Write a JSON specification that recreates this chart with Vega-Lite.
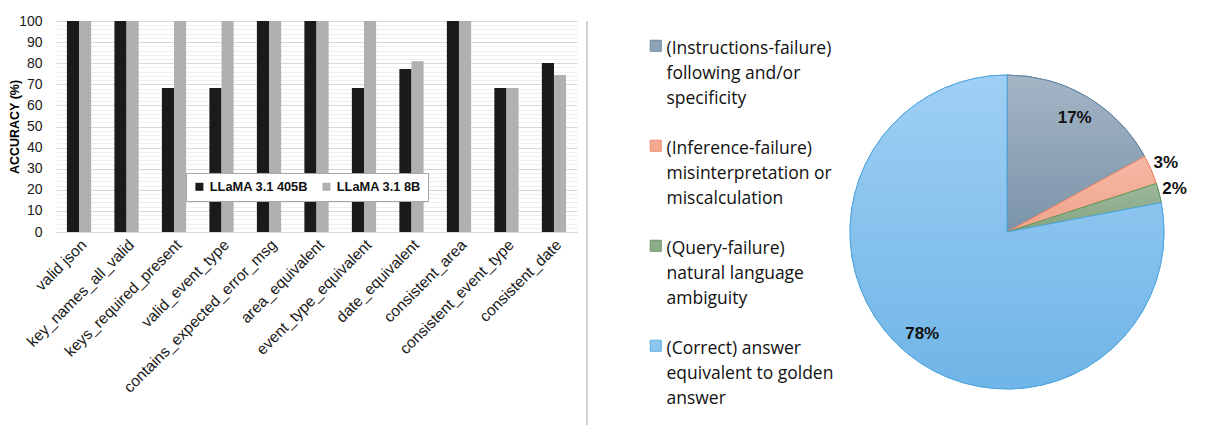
{
  "$schema": "https://vega.github.io/schema/vega-lite/v6.json",
  "background": "white",
  "padding": {"left": 8, "top": 14, "right": 0, "bottom": 0},
  "spacing": 9,
  "config": {"view": {"stroke": null}, "font": "Liberation Sans"},
  "resolve": {
    "scale": {"x": "independent", "y": "independent", "color": "independent", "fill": "independent", "stroke": "independent", "theta": "independent"},
    "legend": {"color": "independent", "fill": "independent", "stroke": "independent"}
  },
  "hconcat": [
    {
      "width": 521,
      "height": 211,
      "data": {
        "values": [
          {"metric": "valid json", "model": "LLaMA 3.1 405B", "accuracy": 100},
          {"metric": "valid json", "model": "LLaMA 3.1 8B", "accuracy": 100},
          {"metric": "key_names_all_valid", "model": "LLaMA 3.1 405B", "accuracy": 100},
          {"metric": "key_names_all_valid", "model": "LLaMA 3.1 8B", "accuracy": 100},
          {"metric": "keys_required_present", "model": "LLaMA 3.1 405B", "accuracy": 68.2},
          {"metric": "keys_required_present", "model": "LLaMA 3.1 8B", "accuracy": 100},
          {"metric": "valid_event_type", "model": "LLaMA 3.1 405B", "accuracy": 68.2},
          {"metric": "valid_event_type", "model": "LLaMA 3.1 8B", "accuracy": 100},
          {"metric": "contains_expected_error_msg", "model": "LLaMA 3.1 405B", "accuracy": 100},
          {"metric": "contains_expected_error_msg", "model": "LLaMA 3.1 8B", "accuracy": 100},
          {"metric": "area_equivalent", "model": "LLaMA 3.1 405B", "accuracy": 100},
          {"metric": "area_equivalent", "model": "LLaMA 3.1 8B", "accuracy": 100},
          {"metric": "event_type_equivalent", "model": "LLaMA 3.1 405B", "accuracy": 68.2},
          {"metric": "event_type_equivalent", "model": "LLaMA 3.1 8B", "accuracy": 100},
          {"metric": "date_equivalent", "model": "LLaMA 3.1 405B", "accuracy": 77.3},
          {"metric": "date_equivalent", "model": "LLaMA 3.1 8B", "accuracy": 80.9},
          {"metric": "consistent_area", "model": "LLaMA 3.1 405B", "accuracy": 100},
          {"metric": "consistent_area", "model": "LLaMA 3.1 8B", "accuracy": 100},
          {"metric": "consistent_event_type", "model": "LLaMA 3.1 405B", "accuracy": 68.2},
          {"metric": "consistent_event_type", "model": "LLaMA 3.1 8B", "accuracy": 68.2},
          {"metric": "consistent_date", "model": "LLaMA 3.1 405B", "accuracy": 80.1},
          {"metric": "consistent_date", "model": "LLaMA 3.1 8B", "accuracy": 74.4}
        ]
      },
      "layer": [
        {
          "mark": {"type": "point", "opacity": 0},
          "encoding": {
            "x": {"field": "metric", "type": "nominal", "sort": null, "title": null,
              "scale": {"paddingInner": 0.49, "paddingOuter": 0.23},
              "axis": {"labelAngle": -45, "labelFontSize": 15.5, "labelColor": "#1a1a1a", "ticks": false, "domain": false, "labelPadding": 5, "labelLimit": 0}},
            "y": {"field": "accuracy", "type": "quantitative", "scale": {"domain": [0, 100], "nice": false},
              "axis": {"orient": "right", "values": [2,4,6,8,12,14,16,18,22,24,26,28,32,34,36,38,42,44,46,48,52,54,56,58,62,64,66,68,72,74,76,78,82,84,86,88,92,94,96,98],
                "labels": false, "ticks": false, "domain": false, "title": null, "grid": true, "gridColor": "#efefef", "gridWidth": 1}}
          }
        },
        {
          "mark": {"type": "bar"},
          "encoding": {
            "x": {"field": "metric", "type": "nominal", "sort": null, "title": null,
              "scale": {"paddingInner": 0.49, "paddingOuter": 0.23},
              "axis": {"labelAngle": -45, "labelFontSize": 15.5, "labelColor": "#1a1a1a", "ticks": false, "domain": false, "labelPadding": 5, "labelLimit": 0}},
            "xOffset": {"field": "model", "type": "nominal", "sort": null, "scale": {"paddingInner": 0, "paddingOuter": 0}},
            "y": {"field": "accuracy", "type": "quantitative", "scale": {"domain": [0, 100], "nice": false},
              "axis": {"orient": "left", "values": [0,10,20,30,40,50,60,70,80,90,100], "grid": true, "gridColor": "#d9d9d9", "ticks": false, "domain": false,
                "labelFontSize": 14, "labelColor": "#1a1a1a", "labelPadding": 14,
                "title": "ACCURACY (%)", "titleFontSize": 12.5, "titleFontWeight": "bold", "titleColor": "#000", "titlePadding": -3}},
            "color": {"field": "model", "type": "nominal", "sort": null,
              "scale": {"domain": ["LLaMA 3.1 405B", "LLaMA 3.1 8B"], "range": ["#1a1a1a", "#b0b0b0"]},
              "legend": {"orient": "none", "legendX": 130, "legendY": 152, "direction": "horizontal", "title": null,
                "fillColor": "white", "strokeColor": "#a6a6a6", "padding": 7,
                "labelFont": "Liberation Sans Narrow, Liberation Sans", "labelFontWeight": "bold", "labelFontSize": 12.8, "labelColor": "#111",
                "symbolType": "square", "symbolSize": 64, "symbolStrokeWidth": 0, "columnPadding": 12, "labelOffset": 4}}
          }
        }
      ],
      "resolve": {"axis": {"y": "independent"}}
    },
    {
      "width": 51,
      "height": 422,
      "data": {"values": [{}]},
      "mark": {"type": "rule", "color": "#c0c0c0", "strokeWidth": 1.5},
      "encoding": {"x": {"datum": 0, "type": "quantitative", "scale": {"domain": [0, 1]}, "axis": null}}
    },
    {
      "width": 316,
      "height": 422,
      "data": {
        "values": [
          {"cause": "(Instructions-failure) following and/or specificity", "share": 0.17, "k": 1},
          {"cause": "(Inference-failure) misinterpretation or miscalculation", "share": 0.03, "k": 2},
          {"cause": "(Query-failure) natural language ambiguity", "share": 0.02, "k": 3},
          {"cause": "(Correct) answer equivalent to golden answer", "share": 0.78, "k": 4}
        ]
      },
      "layer": [
        {
          "mark": {"type": "arc", "outerRadius": 157, "strokeWidth": 1},
          "encoding": {
            "theta": {"field": "share", "type": "quantitative", "stack": true},
            "order": {"field": "k", "type": "quantitative"},
            "fill": {"field": "cause", "type": "nominal",
              "scale": {"domain": ["(Instructions-failure) following and/or specificity", "(Inference-failure) misinterpretation or miscalculation", "(Query-failure) natural language ambiguity", "(Correct) answer equivalent to golden answer"],
                "range": ["#8fa3b6", "#f3a98f", "#8cab88", "#8ec6ee"]},
              "legend": {"orient": "none", "legendX": -202, "legendY": 16, "title": null,
                "labelFont": "Open Sans", "labelFontSize": 17.5, "labelColor": "#111", "labelLimit": 0,
                "labelBaseline": "top", "labelOffset": 2, "rowPadding": 29,
                "symbolType": "square", "symbolSize": 121, "symbolStrokeWidth": 1,
                "encode": {"labels": {"update": {"lineHeight": {"value": 25}, "dy": {"value": -6}}}},
                "labelExpr": "datum.value == '(Instructions-failure) following and/or specificity' ? ['(Instructions-failure)', 'following and/or', 'specificity'] : datum.value == '(Inference-failure) misinterpretation or miscalculation' ? ['(Inference-failure)', 'misinterpretation or', 'miscalculation'] : datum.value == '(Query-failure) natural language ambiguity' ? ['(Query-failure)', 'natural language', 'ambiguity'] : ['(Correct) answer', 'equivalent to golden', 'answer']"}},
            "stroke": {"field": "cause", "type": "nominal",
              "scale": {"domain": ["(Instructions-failure) following and/or specificity", "(Inference-failure) misinterpretation or miscalculation", "(Query-failure) natural language ambiguity", "(Correct) answer equivalent to golden answer"],
                "range": ["#6c88a2", "#ec8c6c", "#6a9566", "#5aaee3"]},
              "legend": {"orient": "none", "legendX": -202, "legendY": 16, "title": null,
                "labelFont": "Open Sans", "labelFontSize": 17.5, "labelColor": "#111", "labelLimit": 0,
                "labelBaseline": "top", "labelOffset": 2, "rowPadding": 29,
                "symbolType": "square", "symbolSize": 121, "symbolStrokeWidth": 1,
                "encode": {"labels": {"update": {"lineHeight": {"value": 25}, "dy": {"value": -6}}}},
                "labelExpr": "datum.value == '(Instructions-failure) following and/or specificity' ? ['(Instructions-failure)', 'following and/or', 'specificity'] : datum.value == '(Inference-failure) misinterpretation or miscalculation' ? ['(Inference-failure)', 'misinterpretation or', 'miscalculation'] : datum.value == '(Query-failure) natural language ambiguity' ? ['(Query-failure)', 'natural language', 'ambiguity'] : ['(Correct) answer', 'equivalent to golden', 'answer']"}}
          }
        },
        {
          "mark": {"type": "arc", "outerRadius": 157, "strokeWidth": 1, "stroke": "#5a84a6",
            "fill": {"gradient": "linear", "x1": 0, "y1": 0, "x2": 0, "y2": 1, "stops": [{"offset": 0, "color": "#a4b5c5"}, {"offset": 1, "color": "#7b94aa"}]}},
          "encoding": {
            "theta": {"field": "share", "type": "quantitative", "stack": true},
            "order": {"field": "k", "type": "quantitative"},
            "opacity": {"condition": {"test": "datum.k == 1", "value": 1}, "value": 0}
          }
        },
        {
          "mark": {"type": "arc", "outerRadius": 157, "strokeWidth": 1, "stroke": "#ee8560",
            "fill": {"gradient": "linear", "x1": 0, "y1": 0, "x2": 0, "y2": 1, "stops": [{"offset": 0, "color": "#f5b8a5"}, {"offset": 1, "color": "#f0a48a"}]}},
          "encoding": {
            "theta": {"field": "share", "type": "quantitative", "stack": true},
            "order": {"field": "k", "type": "quantitative"},
            "opacity": {"condition": {"test": "datum.k == 2", "value": 1}, "value": 0}
          }
        },
        {
          "mark": {"type": "arc", "outerRadius": 157, "strokeWidth": 1, "stroke": "#5f9a5b",
            "fill": {"gradient": "linear", "x1": 0, "y1": 0, "x2": 0, "y2": 1, "stops": [{"offset": 0, "color": "#9db79b"}, {"offset": 1, "color": "#84a582"}]}},
          "encoding": {
            "theta": {"field": "share", "type": "quantitative", "stack": true},
            "order": {"field": "k", "type": "quantitative"},
            "opacity": {"condition": {"test": "datum.k == 3", "value": 1}, "value": 0}
          }
        },
        {
          "mark": {"type": "arc", "outerRadius": 157, "strokeWidth": 1, "stroke": "#4da6e0",
            "fill": {"gradient": "linear", "x1": 0, "y1": 0, "x2": 0, "y2": 1, "stops": [{"offset": 0, "color": "#9fcff4"}, {"offset": 1, "color": "#6fb5e7"}]}},
          "encoding": {
            "theta": {"field": "share", "type": "quantitative", "stack": true},
            "order": {"field": "k", "type": "quantitative"},
            "opacity": {"condition": {"test": "datum.k == 4", "value": 1}, "value": 0}
          }
        },
        {
          "mark": {"type": "text", "radius": 133, "font": "Liberation Sans", "fontWeight": "bold", "fontSize": 17, "color": "#111"},
          "encoding": {
            "theta": {"field": "share", "type": "quantitative", "stack": true},
            "order": {"field": "k", "type": "quantitative"},
            "text": {"field": "share", "type": "quantitative", "format": ".0%"},
            "opacity": {"condition": {"test": "datum.k == 1 || datum.k == 4", "value": 1}, "value": 0}
          }
        },
        {
          "mark": {"type": "text", "radius": 173, "font": "Liberation Sans", "fontWeight": "bold", "fontSize": 17, "color": "#111"},
          "encoding": {
            "theta": {"field": "share", "type": "quantitative", "stack": true},
            "order": {"field": "k", "type": "quantitative"},
            "text": {"field": "share", "type": "quantitative", "format": ".0%"},
            "opacity": {"condition": {"test": "datum.k == 2 || datum.k == 3", "value": 1}, "value": 0}
          }
        }
      ]
    }
  ]
}
